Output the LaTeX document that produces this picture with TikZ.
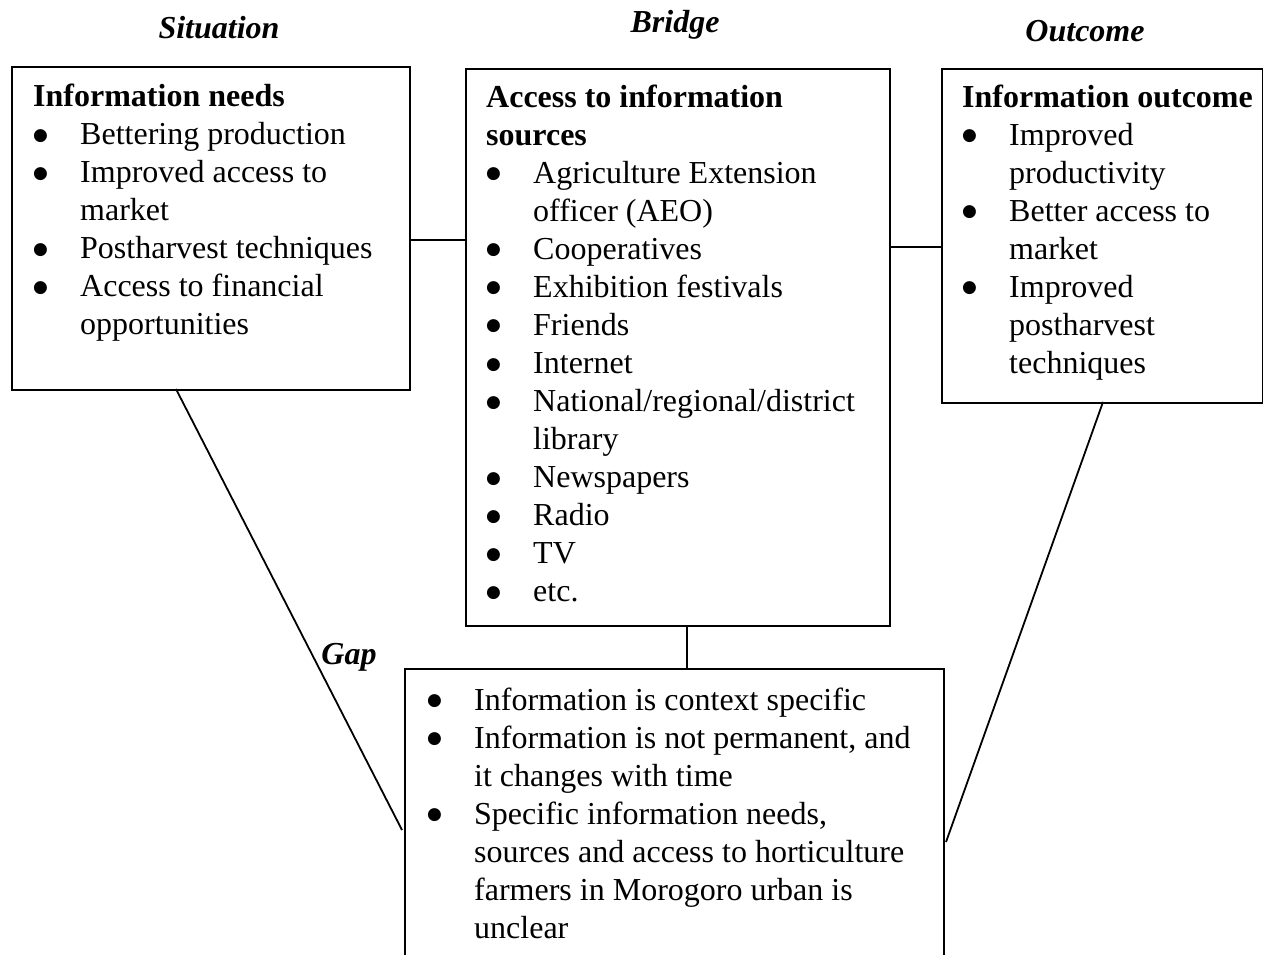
\documentclass[tikz,border=0pt]{standalone}
\usepackage{fontspec}
\setmainfont{Liberation Serif}
\newfontfamily\bulfont{DejaVu Sans}
\newcommand{\bigbul}{\raisebox{5pt}{\bulfont\fontsize{17}{38}\selectfont ●}}
\newcommand{\bul}[1]{\makebox[47pt][l]{\hspace{0pt}\bigbul}#1}
\newcommand{\cnt}[1]{\hspace*{47pt}#1}
\begin{document}
\begin{tikzpicture}[x=1pt,y=-1pt,
  font=\fontsize{32}{38}\selectfont,
  box/.style={draw,line width=1.8pt,anchor=north west,inner sep=0pt},
  txt/.style={anchor=base west,inner sep=0pt},
  ttl/.style={inner sep=0pt,font=\fontsize{32}{38}\selectfont\bfseries\itshape},
  con/.style={line width=1.8pt}]
\useasboundingbox (0,0) rectangle (1263,955);
% titles
\node[ttl] (tsit) at (219,28) {Situation};
\node[ttl] (tbri) at (675,25) {Bridge};
\node[ttl] (tout) at (1085,31) {Outcome};
\node[ttl] (tgap) at (349,657) {Gap};
% boxes
\node[box,minimum width=398pt,minimum height=323pt] (b1) at (11,66) {};
\node[box,minimum width=424pt,minimum height=557pt] (b2) at (465,68) {};
\node[box,minimum width=321pt,minimum height=334pt] (b3) at (941,68) {};
\node[box,minimum width=539pt,minimum height=330pt] (b4) at (404,668) {};
% texts
\node[txt] (t1) at (33,107) {\begin{tabular}[t]{@{}l@{}}
\textbf{Information needs}\\
\bul{Bettering production}\\
\bul{Improved access to}\\
\cnt{market}\\
\bul{Postharvest techniques}\\
\bul{Access to financial}\\
\cnt{opportunities}
\end{tabular}};
\node[txt] (t2) at (486,108) {\begin{tabular}[t]{@{}l@{}}
\textbf{Access to information}\\
\textbf{sources}\\
\bul{Agriculture Extension}\\
\cnt{officer (AEO)}\\
\bul{Cooperatives}\\
\bul{Exhibition festivals}\\
\bul{Friends}\\
\bul{Internet}\\
\bul{National/regional/district}\\
\cnt{library}\\
\bul{Newspapers}\\
\bul{Radio}\\
\bul{TV}\\
\bul{etc.}
\end{tabular}};
\node[txt] (t3) at (962,108) {\begin{tabular}[t]{@{}l@{}}
\textbf{Information outcome}\\
\bul{Improved}\\
\cnt{productivity}\\
\bul{Better access to}\\
\cnt{market}\\
\bul{Improved}\\
\cnt{postharvest}\\
\cnt{techniques}
\end{tabular}};
\node[txt] (t4) at (427,710) {\begin{tabular}[t]{@{}l@{}}
\bul{Information is context specific}\\
\bul{Information is not permanent, and}\\
\cnt{it changes with time}\\
\bul{Specific information needs,}\\
\cnt{sources and access to horticulture}\\
\cnt{farmers in Morogoro urban is}\\
\cnt{unclear}
\end{tabular}};
% helper coordinates
\coordinate (y1) at (0,240);
\coordinate (y2) at (0,247);
\coordinate (x1) at (687,0);
\coordinate (s1) at (176,389);
\coordinate (g1) at (402,830);
\coordinate (s2) at (1103,402);
\coordinate (g2) at (946,842);
% connectors
\draw[con] (b1.east |- y1) -- (b2.west |- y1);
\draw[con] (b2.east |- y2) -- (b3.west |- y2);
\draw[con] (b2.south -| x1) -- (b4.north -| x1);
\draw[con] (s1) -- (g1);
\draw[con] (s2) -- (g2);
\end{tikzpicture}
\end{document}
